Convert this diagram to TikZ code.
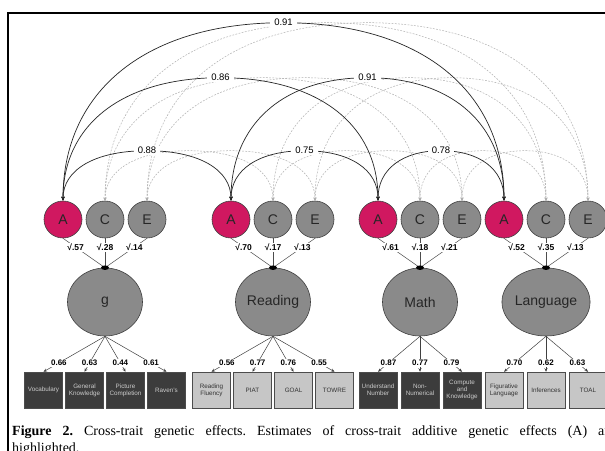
\documentclass[tikz,border=0pt]{standalone}
\usepackage{fontspec}
\setmainfont{Liberation Sans}
\newfontfamily\capfont{Liberation Serif}
\usetikzlibrary{shapes.geometric,arrows.meta,calc}
\definecolor{amag}{RGB}{208,24,96}
\definecolor{cgray}{RGB}{138,138,138}
\definecolor{dbox}{RGB}{60,60,60}
\definecolor{lbox}{RGB}{198,198,198}
\definecolor{dashgray}{RGB}{175,175,175}
\tikzset{
  smallc/.style={ellipse, draw=black!75, line width=0.6pt, minimum width=38pt, minimum height=37pt, inner sep=0pt, font=\fontsize{14}{14}\selectfont, text=black!85},
  acirc/.style={smallc, fill=amag},
  gcirc/.style={smallc, fill=cgray},
  bigc/.style={ellipse, draw=black!75, line width=0.6pt, fill=cgray, minimum width=75pt, minimum height=68pt, inner sep=0pt, font=\fontsize{14}{14}\selectfont, text=black!85},
  dotn/.style={ellipse, fill=black, minimum width=8pt, minimum height=4.5pt, inner sep=0pt},
  boxbase/.style={rectangle, draw=black!70, line width=0.5pt, minimum width=38pt, minimum height=36pt, inner sep=0pt, align=center, font=\fontsize{6.3}{7}\selectfont},
  dbx/.style={boxbase, fill=dbox, text=black!20},
  lbx/.style={boxbase, fill=lbox, text=black!80},
  sqlab/.style={fill=white, inner sep=1pt, font=\bfseries\fontsize{8.5}{9}\selectfont},
  ldlab/.style={fill=white, inner sep=1pt, font=\bfseries\fontsize{8}{9}\selectfont},
  arclab/.style={fill=white, inner xsep=4pt, inner ysep=1pt, font=\fontsize{9.5}{10}\selectfont},
  conn/.style={draw=black!70, line width=0.5pt},
  ldarrow/.style={draw=black!75, line width=0.5pt, -{Stealth[length=3.5pt,width=3pt]}},
  solidarc/.style={draw=black!85, line width=0.7pt, {Stealth[length=4pt,width=3.5pt]}-{Stealth[length=4pt,width=3.5pt]}},
  dasharc/.style={draw=dashgray, line width=0.5pt, dash pattern=on 1.8pt off 1.4pt, {Stealth[length=3pt,width=3pt]}-{Stealth[length=3pt,width=3pt]}}
}
% #1 style, #2 from node, #3 to node, #4 rise (pt), #5 optional label node
\newcommand{\corarc}[5]{%
  \draw[#1] let \p1=(#2.north), \p2=(#3.north), \n1={(\x2-\x1)/2} in
    (#2.north) .. controls ({\x1},{\y1+0.62*#4pt}) and ({\x1+0.38*\n1},{\y1+#4pt}) ..
    ({\x1+\n1},{\y1+#4pt}) #5
    .. controls ({\x1+1.62*\n1},{\y1+#4pt}) and ({\x2},{\y2+0.62*#4pt}) .. (#3.north);%
}
\begin{document}
\begin{tikzpicture}[x=1pt,y=-1pt]
\useasboundingbox (0,0) rectangle (605,450);
\clip (0,0) rectangle (605,450);
\fill[white] (0,0) rectangle (605,450);
\draw[line width=1.5pt] (8,452) -- (8,13) -- (620,13);

% small circles
\node[acirc] (gA) at (63,219.5) {A};
\node[gcirc] (gC) at (105,219.5) {C};
\node[gcirc] (gE) at (147,219.5) {E};
\node[acirc] (rA) at (231,219.5) {A};
\node[gcirc] (rC) at (273,219.5) {C};
\node[gcirc] (rE) at (315,219.5) {E};
\node[acirc] (mA) at (378,219.5) {A};
\node[gcirc] (mC) at (420,219.5) {C};
\node[gcirc] (mE) at (462,219.5) {E};
\node[acirc] (lA) at (504,219.5) {A};
\node[gcirc] (lC) at (546,219.5) {C};
\node[gcirc] (lE) at (588,219.5) {E};

% dashed arcs (C and E)
\corarc{dasharc}{gC}{rC}{50}{}
\corarc{dasharc}{rC}{mC}{50}{}
\corarc{dasharc}{mC}{lC}{50}{}
\corarc{dasharc}{gC}{mC}{123}{}
\corarc{dasharc}{rC}{lC}{123}{}
\corarc{dasharc}{gC}{lC}{178}{}
\corarc{dasharc}{gE}{rE}{50}{}
\corarc{dasharc}{rE}{mE}{50}{}
\corarc{dasharc}{mE}{lE}{50}{}
\corarc{dasharc}{gE}{mE}{123}{}
\corarc{dasharc}{rE}{lE}{123}{}
\corarc{dasharc}{gE}{lE}{178}{}

% solid arcs (A)
\corarc{solidarc}{gA}{lA}{178}{node[arclab]{0.91}}
\corarc{solidarc}{gA}{mA}{123}{node[arclab]{0.86}}
\corarc{solidarc}{rA}{lA}{123}{node[arclab]{0.91}}
\corarc{solidarc}{gA}{rA}{50}{node[arclab]{0.88}}
\corarc{solidarc}{rA}{mA}{50}{node[arclab]{0.75}}
\corarc{solidarc}{mA}{lA}{50}{node[arclab]{0.78}}

% big circles
\node[bigc] (g) at (105,302) {g};
\node[bigc] (R) at (273,302) {Reading};
\node[bigc] (M) at (420,302) {Math};
\node[bigc] (L) at (546,302) {Language};

\coordinate (gd) at (g.north);
\coordinate (rd) at (R.north);
\coordinate (md) at (M.north);
\coordinate (ld) at (L.north);

% paths to factors
\draw[conn] (gA.south) -- node[sqlab,pos=0.3]{√.57} (gd);
\draw[conn] (gC.south) -- node[sqlab,pos=0.3]{√.28} (gd);
\draw[conn] (gE.south) -- node[sqlab,pos=0.3]{√.14} (gd);
\draw[conn] (rA.south) -- node[sqlab,pos=0.3]{√.70} (rd);
\draw[conn] (rC.south) -- node[sqlab,pos=0.3]{√.17} (rd);
\draw[conn] (rE.south) -- node[sqlab,pos=0.3]{√.13} (rd);
\draw[conn] (mA.south) -- node[sqlab,pos=0.3]{√.61} (md);
\draw[conn] (mC.south) -- node[sqlab,pos=0.3]{√.18} (md);
\draw[conn] (mE.south) -- node[sqlab,pos=0.3]{√.21} (md);
\draw[conn] (lA.south) -- node[sqlab,pos=0.3]{√.52} (ld);
\draw[conn] (lC.south) -- node[sqlab,pos=0.3]{√.35} (ld);
\draw[conn] (lE.south) -- node[sqlab,pos=0.3]{√.13} (ld);
\node[dotn] (gdot) at (gd) {};
\node[dotn] (rdot) at (rd) {};
\node[dotn] (mdot) at (md) {};
\node[dotn] (ldot) at (ld) {};

% indicator boxes
\node[dbx] (g1) at (43.5,390) {Vocabulary};
\node[dbx] (g2) at (84.5,390) {General\\Knowledge};
\node[dbx] (g3) at (125.5,390) {Picture\\Completion};
\node[dbx] (g4) at (166.5,390) {Raven's};
\node[lbx] (r1) at (211.5,390) {Reading\\Fluency};
\node[lbx] (r2) at (252.5,390) {PIAT};
\node[lbx] (r3) at (293.5,390) {GOAL};
\node[lbx] (r4) at (334.5,390) {TOWRE};
\node[dbx] (m1) at (378,390) {Understand\\Number};
\node[dbx] (m2) at (420,390) {Non-\\Numerical};
\node[dbx] (m3) at (462,390) {Compute\\and\\Knowledge};
\node[lbx] (l1) at (504,390) {Figurative\\Language};
\node[lbx] (l2) at (546,390) {Inferences};
\node[lbx] (l3) at (588,390) {TOAL};

% loadings
\draw[ldarrow] (g.south) -- node[ldlab,pos=0.75]{0.66} (g1.north);
\draw[ldarrow] (g.south) -- node[ldlab,pos=0.75]{0.63} (g2.north);
\draw[ldarrow] (g.south) -- node[ldlab,pos=0.75]{0.44} (g3.north);
\draw[ldarrow] (g.south) -- node[ldlab,pos=0.75]{0.61} (g4.north);
\draw[ldarrow] (R.south) -- node[ldlab,pos=0.75]{0.56} (r1.north);
\draw[ldarrow] (R.south) -- node[ldlab,pos=0.75]{0.77} (r2.north);
\draw[ldarrow] (R.south) -- node[ldlab,pos=0.75]{0.76} (r3.north);
\draw[ldarrow] (R.south) -- node[ldlab,pos=0.75]{0.55} (r4.north);
\draw[ldarrow] (M.south) -- node[ldlab,pos=0.75]{0.87} (m1.north);
\draw[ldarrow] (M.south) -- node[ldlab,pos=0.75]{0.77} (m2.north);
\draw[ldarrow] (M.south) -- node[ldlab,pos=0.75]{0.79} (m3.north);
\draw[ldarrow] (L.south) -- node[ldlab,pos=0.75]{0.70} (l1.north);
\draw[ldarrow] (L.south) -- node[ldlab,pos=0.75]{0.62} (l2.north);
\draw[ldarrow] (L.south) -- node[ldlab,pos=0.75]{0.63} (l3.north);

% caption
\node[anchor=base west, inner sep=0pt, font=\capfont\fontsize{14}{17}\selectfont\frenchspacing] (cap1) at (12,435)
  {\makebox[603pt][s]{\textbf{Figure 2.} Cross-trait genetic effects. Estimates of cross-trait additive genetic effects (A) are}};
\node[anchor=base west, inner sep=0pt, font=\capfont\fontsize{14}{17}\selectfont] (cap2) at (12,452) {highlighted.};
\end{tikzpicture}
\end{document}
